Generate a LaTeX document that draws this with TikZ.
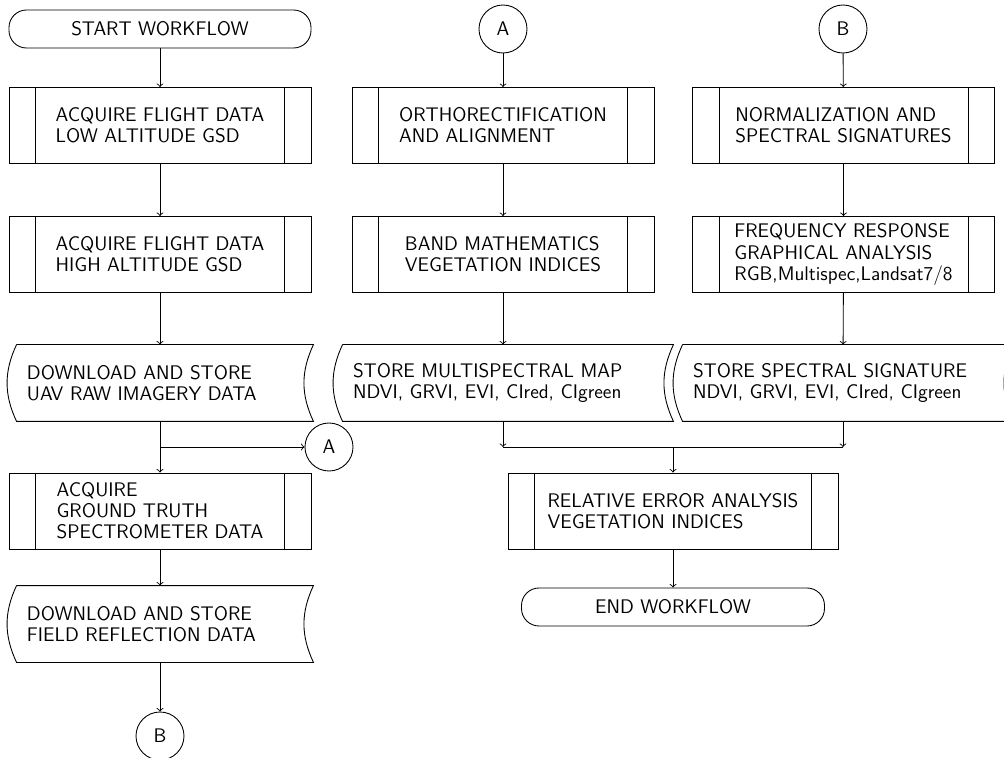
\documentclass[tikz,border=0pt]{standalone}
\usetikzlibrary{shapes.geometric}

% stored data: left side bulges out, right side bends in
\newcommand{\storeshape}[1]{%
  \draw ([xshift=0.2cm]#1.north west) -- (#1.north east)
        to[bend right=25] (#1.south east)
        -- ([xshift=0.2cm]#1.south west)
        to[bend left=25] ([xshift=0.2cm]#1.north west);}

\tikzset{
  terminal/.style={draw, rounded corners=0.35cm, minimum width=6.04cm, minimum height=0.76cm},
  predef/.style={draw, align=left, minimum width=6.04cm, minimum height=1.52cm,
    path picture={
      \draw ([xshift=0.53cm]path picture bounding box.north west) -- ([xshift=0.53cm]path picture bounding box.south west);
      \draw ([xshift=-0.53cm]path picture bounding box.north east) -- ([xshift=-0.53cm]path picture bounding box.south east);}},
  storage/.style={align=left, inner xsep=0.4cm, minimum height=1.52cm, text width=#1},
  connector/.style={draw, circle, minimum size=0.96cm, inner sep=0pt}
}

\begin{document}
\begin{tikzpicture}[font=\sffamily\fontsize{11.2}{12}\selectfont, line width=0.5pt]
        \clip (0,0) rectangle (20.08,-15.16);
        \useasboundingbox (0,0) rectangle (20.08,-15.16);

        % first column
        \node[terminal] (start) at (3.2,-0.58) {START WORKFLOW};
        \node[predef] (low) at (3.2,-2.51) {ACQUIRE FLIGHT DATA\\LOW ALTITUDE GSD};
        \node[predef] (high) at (3.2,-5.09) {ACQUIRE FLIGHT DATA\\HIGH ALTITUDE GSD};
        \node[storage=5.32cm] (uav) at (3.2,-7.66) {DOWNLOAD AND STORE\\UAV RAW IMAGERY DATA};
        \storeshape{uav}
        \node[connector] (outA) at (6.58,-8.94) {A};
        \node[predef] (ground) at (3.2,-10.22) {ACQUIRE\\GROUND TRUTH\\SPECTROMETER DATA};
        \node[storage=5.32cm] (field) at (3.2,-12.48) {DOWNLOAD AND STORE\\FIELD REFLECTION DATA};
        \storeshape{field}
        \node[connector] (outB) at (3.2,-14.72) {B};

        \draw[->] (start) -- (low);
        \draw[->] (low) -- (high);
        \draw[->] (high) -- (uav);
        \draw[->] (uav) -- (ground);
        \draw[->] (uav.south |- outA) -- (outA);
        \draw[->] (ground) -- (field);
        \draw[->] (field) -- (outB);

        % second column
        \node[connector] (inA) at (10.06,-0.58) {A};
        \node[predef] (ortho) at (10.06,-2.51) {ORTHORECTIFICATION\\AND ALIGNMENT};
        \node[predef] (band) at (10.06,-5.09) {BAND MATHEMATICS\\VEGETATION INDICES};
        \node[storage=6.0cm] (map) at (10.06,-7.66) {STORE MULTISPECTRAL MAP\\NDVI, GRVI, EVI, CIred, CIgreen};
        \storeshape{map}

        \draw[->] (inA) -- (ortho);
        \draw[->] (ortho) -- (band);
        \draw[->] (band) -- (map);

        % third column
        \node[connector] (inB) at (16.86,-0.58) {B};
        \node[predef] (norm) at (16.87,-2.51) {NORMALIZATION AND\\SPECTRAL SIGNATURES};
        \node[predef] (freq) at (16.87,-5.09) {FREQUENCY RESPONSE\\GRAPHICAL ANALYSIS\\RGB,Multispec,Landsat7/8};
        \node[storage=6.0cm] (sign) at (16.86,-7.66) {STORE SPECTRAL SIGNATURE\\NDVI, GRVI, EVI, CIred, CIgreen};
        \storeshape{sign}

        \draw[->] (inB) -- (norm);
        \draw[->] (norm) -- (freq);
        \draw[->] (freq) -- (sign);

        % merge and end
        \coordinate (merge) at (13.46,-8.94);
        \node[predef, minimum width=6.6cm] (error) at (13.46,-10.22) {RELATIVE ERROR ANALYSIS\\VEGETATION INDICES};
        \node[terminal, minimum width=6.06cm] (end) at (13.46,-12.14) {END WORKFLOW};

        \draw[->] (map) -- (map.south |- merge);
        \draw[->] (sign) -- (sign.south |- merge);
        \draw (map.south |- merge) -- (sign.south |- merge);
        \draw[->] (merge) -- (error);
        \draw[->] (error) -- (end);
\end{tikzpicture}
\end{document}
